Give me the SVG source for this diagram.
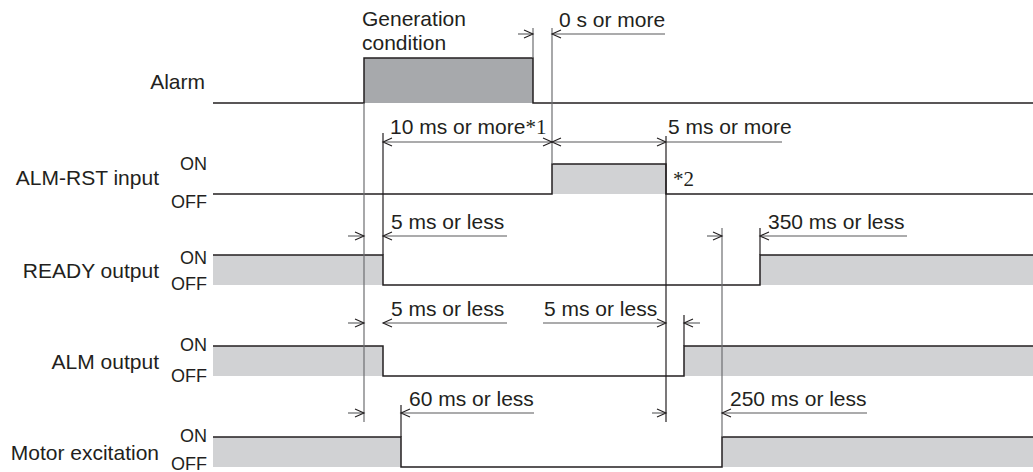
<svg xmlns="http://www.w3.org/2000/svg" width="1033" height="472" viewBox="0 0 1033 472">
<style>
.sig{fill:none;stroke:#231f20;stroke-width:1.5}
.ext{fill:none;stroke:#6d6e71;stroke-width:1.2}
.extd{fill:none;stroke:#231f20;stroke-width:1.2}
.dim{fill:none;stroke:#58595b;stroke-width:1.1}
.fl{fill:#d1d2d4}
.fd{fill:#a7a9ac}
.lbl{font-family:"Liberation Sans",Arial,sans-serif;font-size:21px;fill:#231f20}
.oo{font-family:"Liberation Sans",Arial,sans-serif;font-size:18px;fill:#231f20}
.tm{font-family:"Liberation Sans",Arial,sans-serif;font-size:21px;fill:#231f20}
.sr{font-family:"Liberation Serif","Times New Roman",serif;font-size:21px;fill:#231f20}
</style>
<defs>
<marker id="ar" markerUnits="userSpaceOnUse" markerWidth="12" markerHeight="12" viewBox="-10 -6 12 12" refX="0" refY="0" orient="auto-start-reverse">
<path d="M-9,-4 L0,0 L-9,4" fill="none" stroke="#231f20" stroke-width="1.1"/>
</marker>
</defs>

<g id="labels">
<text class="lbl" x="205" y="89" text-anchor="end">Alarm</text>
<text class="lbl" x="159" y="185" text-anchor="end">ALM-RST input</text>
<text class="oo" x="207" y="170" text-anchor="end">ON</text>
<text class="oo" x="207" y="208" text-anchor="end">OFF</text>
<text class="lbl" x="159" y="278" text-anchor="end">READY output</text>
<text class="oo" x="207" y="264" text-anchor="end">ON</text>
<text class="oo" x="207" y="290" text-anchor="end">OFF</text>
<text class="lbl" x="159" y="369" text-anchor="end">ALM output</text>
<text class="oo" x="207" y="351" text-anchor="end">ON</text>
<text class="oo" x="207" y="382" text-anchor="end">OFF</text>
<text class="lbl" x="159" y="460" text-anchor="end">Motor excitation</text>
<text class="oo" x="207" y="442" text-anchor="end">ON</text>
<text class="oo" x="207" y="470" text-anchor="end">OFF</text>
</g>

<g id="alarm">
<rect class="fd" x="364" y="58" width="169" height="45"/>
<path class="sig" d="M213,103 H364 V58 H533 V103 H1033"/>
</g>
<g id="alm-rst">
<rect class="fl" x="552" y="164" width="114" height="30"/>
<path class="sig" d="M213,194 H552 V164 H666 V194 H1033"/>
</g>
<g id="ready">
<rect class="fl" x="213" y="255" width="170" height="30"/>
<rect class="fl" x="760" y="255" width="273" height="30"/>
<path class="sig" d="M213,255 H383 V285 H760 V255 H1033"/>
</g>
<g id="alm-out">
<rect class="fl" x="213" y="346" width="170" height="30"/>
<rect class="fl" x="684" y="346" width="349" height="30"/>
<path class="sig" d="M213,346 H383 V376 H684 V346 H1033"/>
</g>
<g id="motor">
<rect class="fl" x="213" y="437" width="188" height="30"/>
<rect class="fl" x="722" y="437" width="311" height="30"/>
<path class="sig" d="M213,437 H401 V467 H722 V437 H1033"/>
</g>

<g id="connectors">
<path class="ext" d="M364,103 V422"/>
<path class="ext" d="M533,28 V58"/>
<path class="ext" d="M552,28 V164"/>
<path class="extd" d="M383,133 V255"/>
<path class="extd" d="M666,136 V422"/>
<path class="ext" d="M722,228 V437"/>
<path class="extd" d="M684,315 V346"/>
<path class="extd" d="M401,405 V437"/>
<path class="extd" d="M760,228 V255"/>

<path class="dim" d="M518,34 H533" marker-end="url(#ar)"/>
<path class="dim" d="M665,34 H552" marker-end="url(#ar)"/>

<path class="dim" d="M383,142 H552" marker-start="url(#ar)" marker-end="url(#ar)"/>
<path class="dim" d="M552,142 H666" marker-start="url(#ar)" marker-end="url(#ar)"/>
<path class="dim" d="M666,142 H782"/>

<path class="dim" d="M348,236 H364" marker-end="url(#ar)"/>
<path class="dim" d="M507,236 H383" marker-end="url(#ar)"/>
<path class="dim" d="M707,236 H722" marker-end="url(#ar)"/>
<path class="dim" d="M907,236 H760" marker-end="url(#ar)"/>

<path class="dim" d="M348,323 H364" marker-end="url(#ar)"/>
<path class="dim" d="M507,323 H383" marker-end="url(#ar)"/>
<path class="dim" d="M543,323 H666" marker-end="url(#ar)"/>
<path class="dim" d="M700,323 H684" marker-end="url(#ar)"/>

<path class="dim" d="M348,413 H364" marker-end="url(#ar)"/>
<path class="dim" d="M534,413 H401" marker-end="url(#ar)"/>
<path class="dim" d="M652,413 H666" marker-end="url(#ar)"/>
<path class="dim" d="M867,413 H722" marker-end="url(#ar)"/>
</g>

<g id="timing-labels">
<text class="tm" x="362" y="26">Generation</text>
<text class="tm" x="362" y="50">condition</text>
<text class="tm" x="559" y="27">0 s or more</text>
<text class="tm" x="390" y="134">10 ms or more<tspan class="sr">*1</tspan></text>
<text class="tm" x="668" y="134">5 ms or more</text>
<text class="sr" x="673" y="186">*2</text>
<text class="tm" x="391" y="229">5 ms or less</text>
<text class="tm" x="768" y="229">350 ms or less</text>
<text class="tm" x="391" y="316">5 ms or less</text>
<text class="tm" x="544" y="316">5 ms or less</text>
<text class="tm" x="409" y="406">60 ms or less</text>
<text class="tm" x="730" y="406">250 ms or less</text>
</g>
</svg>
